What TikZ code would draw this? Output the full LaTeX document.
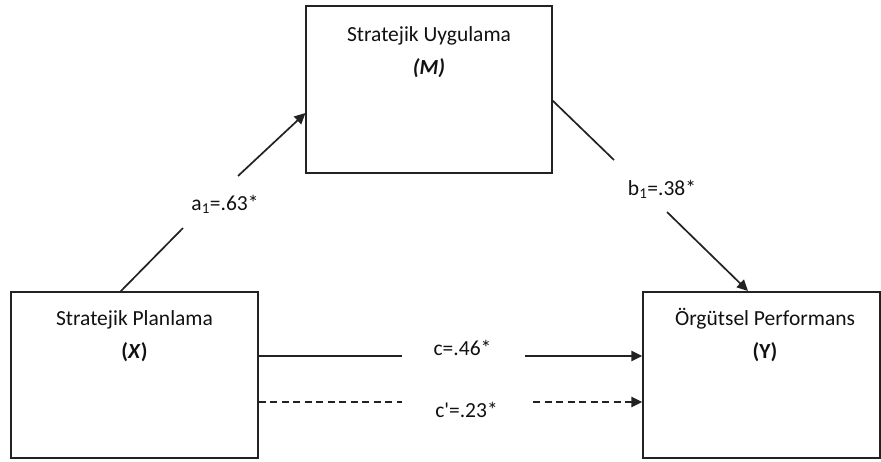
\documentclass[tikz,border=0pt]{standalone}
\usepackage{fontspec}
\setmainfont{Carlito}
\usetikzlibrary{arrows.meta}
\definecolor{ink}{HTML}{111111}
\definecolor{edge}{HTML}{222222}
\tikzset{
  box/.style={draw=edge, line width=1.5pt, inner sep=0pt},
  txt/.style={text=ink, font=\fontsize{21.5}{26}\selectfont, inner sep=0pt, anchor=base},
  conn/.style={draw=edge, line width=1.7pt},
  arr/.style={conn, -{Triangle[length=11pt,width=10.5pt]}},
  dashconn/.style={conn, dash pattern=on 7pt off 4.5pt}
}
\begin{document}
\begin{tikzpicture}[x=1pt,y=-1pt]
\useasboundingbox (0,0) rectangle (881,461);
% boxes
\node[box, minimum width=247pt, minimum height=166pt] (X) at (134.5,375) {};
\node[box, minimum width=246pt, minimum height=167pt] (M) at (429,89.5) {};
\node[box, minimum width=237pt, minimum height=166pt] (Y) at (761.5,375) {};
% box texts
\node[txt] (Xt1) at (134.5,325.5) {Stratejik Planlama};
\node[txt] (Xt2) at (134.5,358.5) {\textbf{(\textit{X})}};
\node[txt] (Mt1) at (429,41.5) {Stratejik Uygulama};
\node[txt] (Mt2) at (429,74.5) {\textbf{\textit{(M)}}};
\node[txt] (Yt1) at (765,325.5) {Örgütsel Performans};
\node[txt] (Yt2) at (765,358.5) {\textbf{(Y)}};
% labels
\node[txt] (la) at (225,210) {a\textsubscript{1}=.63*};
\node[txt] (lb) at (662,195) {b\textsubscript{1}=.38*};
\node[txt] (lc) at (462.5,355) {c=.46*};
\node[txt] (lcp) at (466.5,417) {c\textquotesingle=.23*};
% connector a: X -> M
\coordinate (a0) at (120,292);
\coordinate (a1) at (183,228);
\coordinate (a2) at (238,176);
\coordinate (a3) at (305.5,113);
\draw[conn] (a0) -- (a1);
\draw[arr] (a2) -- (a3);
% connector b: M -> Y
\coordinate (b0) at (552,100);
\coordinate (b1) at (614,160);
\coordinate (b2) at (667,212);
\coordinate (b3) at (748,291);
\draw[conn] (b0) -- (b1);
\draw[arr] (b2) -- (b3);
% connector c: X -> Y
\coordinate (c1) at (402,356);
\coordinate (c2) at (525,356);
\draw[conn] (X.east |- c1) -- (c1);
\draw[arr] (c2) -- (Y.west |- c2);
% connector c': X -> Y dashed
\coordinate (d1) at (402,402);
\coordinate (d2) at (533,402);
\draw[dashconn] (X.east |- d1) -- (d1);
\draw[dashconn, -{Triangle[length=11pt,width=10.5pt]}] (d2) -- (Y.west |- d2);
\end{tikzpicture}
\end{document}
